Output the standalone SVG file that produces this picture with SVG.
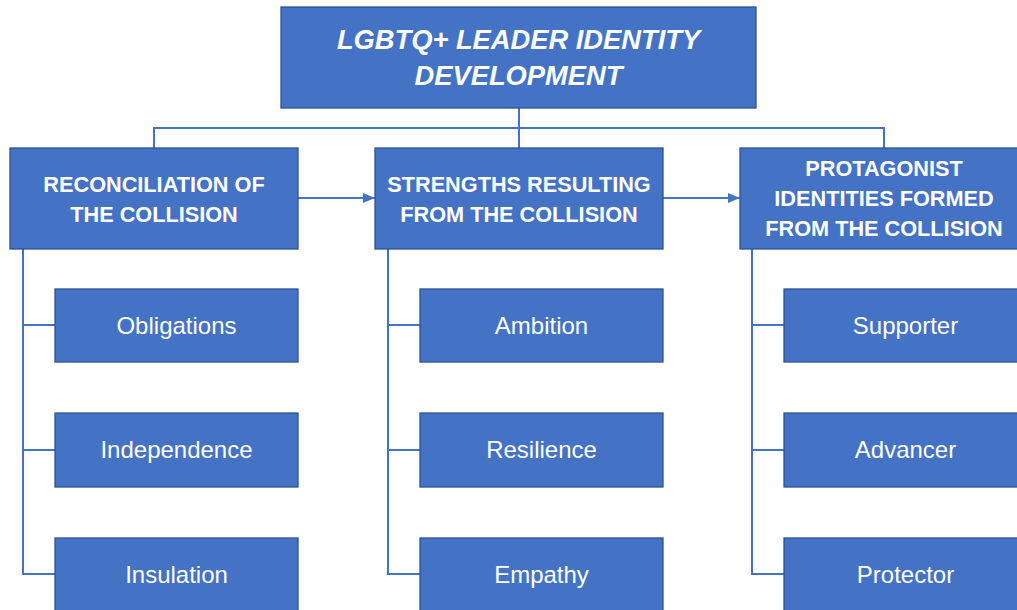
<svg xmlns="http://www.w3.org/2000/svg" width="1017" height="610" viewBox="0 0 1017 610">
  <defs>
    <marker id="arrow" markerWidth="12" markerHeight="10" refX="12" refY="5" orient="auto" markerUnits="userSpaceOnUse">
      <path d="M0,0 L12,5 L0,10 Z" fill="#4472C4"/>
    </marker>
    <style>
      .box { fill: #4472C4; stroke: #2F528F; stroke-width: 1.3; }
      .line { fill: none; stroke: #4472C4; stroke-width: 2; }
      .title { font-family: "Liberation Sans", Arial, sans-serif; font-weight: bold; font-style: italic; font-size: 27.3px; fill: #FFFFFF; text-anchor: middle; }
      .head { font-family: "Liberation Sans", Arial, sans-serif; font-weight: bold; font-size: 21.7px; fill: #FFFFFF; text-anchor: middle; }
      .item { font-family: "Liberation Sans", Arial, sans-serif; font-size: 24px; fill: #FFFFFF; text-anchor: middle; }
    </style>
  </defs>
  <rect width="1017" height="610" fill="#FFFFFF"/>

  <!-- connectors -->
  <g id="connectors">
    <path class="line" d="M519,108 V128 M154,148 V128 H884 V148 M519,128 V148"/>
    <path class="line" d="M298,198 H375" marker-end="url(#arrow)"/>
    <path class="line" d="M663,198 H740" marker-end="url(#arrow)"/>
    <path class="line" d="M23,249 V574 H55 M23,325 H55 M23,450 H55"/>
    <path class="line" d="M388,249 V574 H420 M388,325 H420 M388,450 H420"/>
    <path class="line" d="M752,249 V574 H784 M752,325 H784 M752,450 H784"/>
  </g>

  <!-- root -->
  <g id="root">
    <rect class="box" x="281" y="7" width="475" height="101"/>
    <text class="title" x="518.5" y="49">LGBTQ+ LEADER IDENTITY</text>
    <text class="title" x="518.5" y="85">DEVELOPMENT</text>
  </g>

  <!-- first level -->
  <g id="reconciliation">
    <rect class="box" x="10" y="148" width="288" height="101"/>
    <text class="head" x="154" y="192">RECONCILIATION OF</text>
    <text class="head" x="154" y="222">THE COLLISION</text>
  </g>
  <g id="strengths">
    <rect class="box" x="375" y="148" width="288" height="101"/>
    <text class="head" x="519" y="192">STRENGTHS RESULTING</text>
    <text class="head" x="519" y="222">FROM THE COLLISION</text>
  </g>
  <g id="protagonist">
    <rect class="box" x="740" y="148" width="288" height="101"/>
    <text class="head" x="884" y="176">PROTAGONIST</text>
    <text class="head" x="884" y="206">IDENTITIES FORMED</text>
    <text class="head" x="884" y="236">FROM THE COLLISION</text>
  </g>

  <!-- reconciliation items -->
  <g id="obligations">
    <rect class="box" x="55" y="289" width="243" height="73"/>
    <text class="item" x="176.5" y="334">Obligations</text>
  </g>
  <g id="independence">
    <rect class="box" x="55" y="413" width="243" height="74"/>
    <text class="item" x="176.5" y="458">Independence</text>
  </g>
  <g id="insulation">
    <rect class="box" x="55" y="538" width="243" height="74"/>
    <text class="item" x="176.5" y="583">Insulation</text>
  </g>

  <!-- strengths items -->
  <g id="ambition">
    <rect class="box" x="420" y="289" width="243" height="73"/>
    <text class="item" x="541.5" y="334">Ambition</text>
  </g>
  <g id="resilience">
    <rect class="box" x="420" y="413" width="243" height="74"/>
    <text class="item" x="541.5" y="458">Resilience</text>
  </g>
  <g id="empathy">
    <rect class="box" x="420" y="538" width="243" height="74"/>
    <text class="item" x="541.5" y="583">Empathy</text>
  </g>

  <!-- protagonist items -->
  <g id="supporter">
    <rect class="box" x="784" y="289" width="243" height="73"/>
    <text class="item" x="905.5" y="334">Supporter</text>
  </g>
  <g id="advancer">
    <rect class="box" x="784" y="413" width="243" height="74"/>
    <text class="item" x="905.5" y="458">Advancer</text>
  </g>
  <g id="protector">
    <rect class="box" x="784" y="538" width="243" height="74"/>
    <text class="item" x="905.5" y="583">Protector</text>
  </g>
</svg>
